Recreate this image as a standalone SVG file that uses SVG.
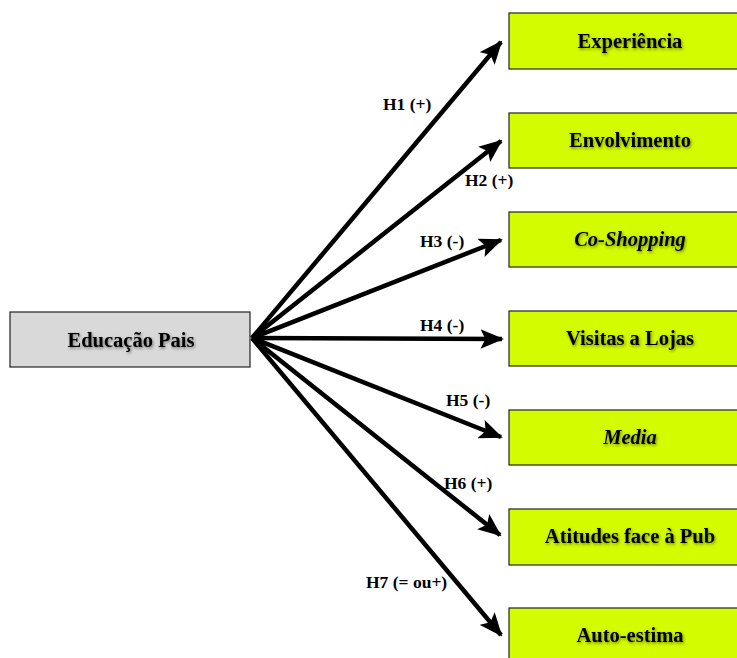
<svg xmlns="http://www.w3.org/2000/svg" width="737" height="658" viewBox="0 0 737 658">
  <defs>
    <style>
      .box { stroke: #222; stroke-width: 1.2; }
      .src { fill: #d9d9d9; }
      .dst { fill: #d4fc00; }
      .t { font-family: "Liberation Serif", "Times New Roman", serif; font-weight: bold; font-size: 20.5px; fill: #000; text-anchor: middle; filter: url(#glow); }
      .it { font-style: italic; }
      .lbl { font-family: "Liberation Serif", "Times New Roman", serif; font-weight: bold; font-size: 17.5px; fill: #000; }
      .edge { stroke: #000; stroke-width: 4.5; fill: none; marker-end: url(#head); }
    </style>
    <filter id="glow" x="-10%" y="-40%" width="120%" height="180%">
      <feDropShadow dx="1" dy="1.5" stdDeviation="1.5" flood-color="#000" flood-opacity="0.45"/>
    </filter>
    <!-- arrowhead sized in stroke widths, slightly longer than wide -->
    <marker id="head" viewBox="0 0 12 10" refX="11" refY="5" markerWidth="5.2" markerHeight="4.4" orient="auto" markerUnits="strokeWidth">
      <path d="M0,0 L12,5 L0,10 L2.5,5 Z" fill="#000"/>
    </marker>
  </defs>

  <g id="connectors">
    <line class="edge" x1="252" y1="338" x2="501" y2="42"/>
    <line class="edge" x1="252" y1="338" x2="501" y2="141"/>
    <line class="edge" x1="252" y1="338" x2="501" y2="240"/>
    <line class="edge" x1="252" y1="338" x2="502" y2="339"/>
    <line class="edge" x1="252" y1="338" x2="501" y2="437"/>
    <line class="edge" x1="252" y1="338" x2="500" y2="535"/>
    <line class="edge" x1="252" y1="338" x2="501" y2="635"/>
    <text class="lbl" x="383" y="110">H1 (+)</text>
    <text class="lbl" x="465" y="186">H2 (+)</text>
    <text class="lbl" x="420" y="247">H3 (-)</text>
    <text class="lbl" x="420" y="331">H4 (-)</text>
    <text class="lbl" x="446" y="406">H5 (-)</text>
    <text class="lbl" x="444" y="489">H6 (+)</text>
    <text class="lbl" x="366" y="588">H7 (= ou+)</text>
  </g>

  <g id="educacao-pais">
    <rect class="box src" x="10" y="312" width="240" height="55"/>
    <text class="t" x="131" y="347">Educação Pais</text>
  </g>
  <g id="experiencia">
    <rect class="box dst" x="509" y="13" width="240" height="56"/>
    <text class="t" x="630" y="48">Experiência</text>
  </g>
  <g id="envolvimento">
    <rect class="box dst" x="509" y="113" width="240" height="55"/>
    <text class="t" x="630" y="147">Envolvimento</text>
  </g>
  <g id="co-shopping">
    <rect class="box dst" x="509" y="212" width="240" height="55"/>
    <text class="t it" x="630" y="246">Co-Shopping</text>
  </g>
  <g id="visitas-lojas">
    <rect class="box dst" x="509" y="311" width="240" height="55"/>
    <text class="t" x="630" y="345">Visitas a Lojas</text>
  </g>
  <g id="media">
    <rect class="box dst" x="509" y="410" width="240" height="55"/>
    <text class="t it" x="630" y="444">Media</text>
  </g>
  <g id="atitudes">
    <rect class="box dst" x="509" y="509" width="240" height="56"/>
    <text class="t" x="630" y="543">Atitudes face à Pub</text>
  </g>
  <g id="auto-estima">
    <rect class="box dst" x="509" y="608" width="240" height="56"/>
    <text class="t" x="630" y="642">Auto-estima</text>
  </g>
</svg>
